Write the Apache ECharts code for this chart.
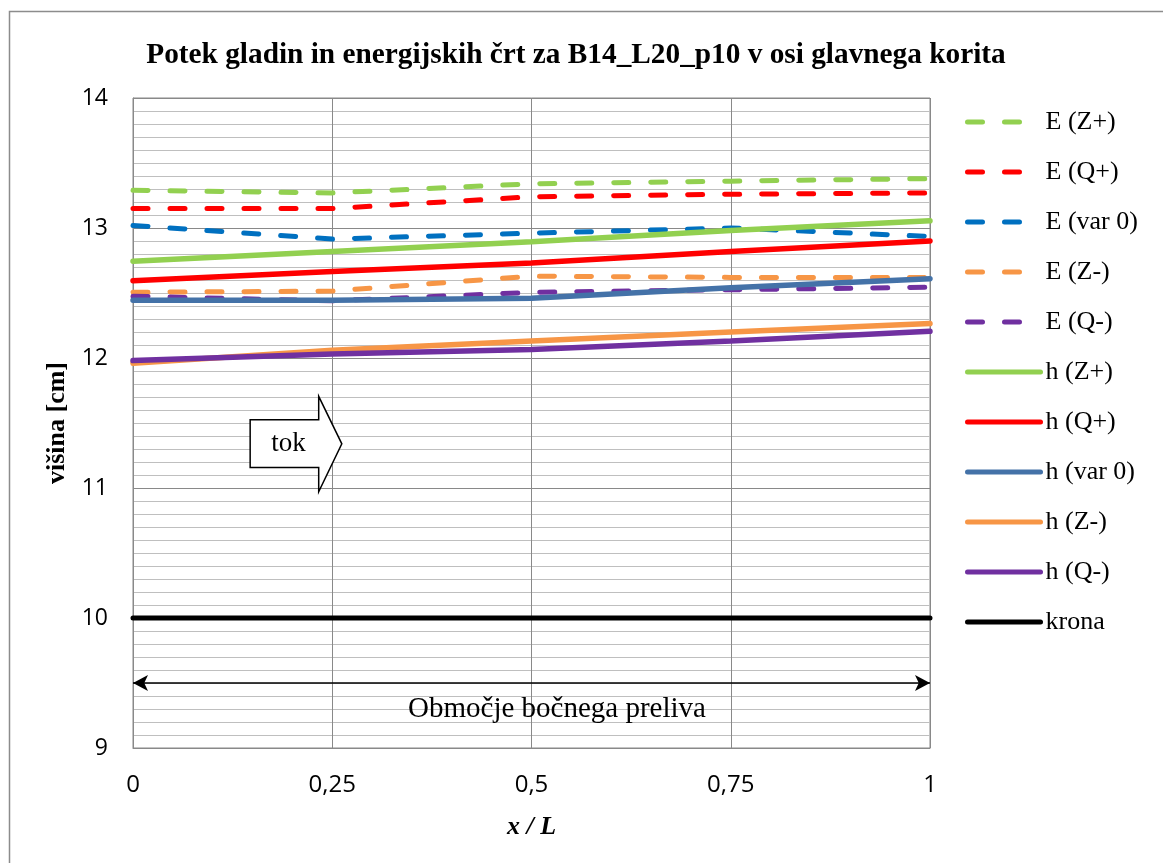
<!DOCTYPE html>
<html>
<head>
<meta charset="utf-8">
<script src="https://cdn.jsdelivr.net/npm/echarts@6/dist/echarts.min.js"></script>
<style>html,body{margin:0;padding:0;background:#fff}#c{width:1163px;height:863px}</style>
</head>
<body>
<div id="c"></div>
<script>
const xs = [0, 0.25, 0.5, 0.75, 1];
const xTickLabels = ['0', '0,25', '0,5', '0,75', '1'];
const E_Zp   = [13.29, 13.27, 13.34, 13.36, 13.38];
const E_Qp   = [13.15, 13.15, 13.24, 13.26, 13.27];
const E_var0 = [13.02, 12.915, 12.96, 13.00, 12.935];
const E_Zm   = [12.505, 12.515, 12.63, 12.62, 12.62];
const E_Qm   = [12.475, 12.44, 12.505, 12.525, 12.545];
const h_Zp   = [12.745, 12.82, 12.895, 12.98, 13.055];
const h_Qp   = [12.595, 12.665, 12.73, 12.82, 12.90];
const h_var0 = [12.445, 12.445, 12.46, 12.54, 12.61];
const h_Zm   = [11.96, 12.06, 12.13, 12.20, 12.265];
const h_Qm   = [11.98, 12.03, 12.065, 12.13, 12.205];
const krona  = [10, 10, 10, 10, 10];

const pairs = arr => xs.map((x, i) => [x, arr[i]]);
const SERIF = '"Liberation Serif", "Times New Roman", serif';
const SANS = '"Open Sans", "Liberation Sans", sans-serif';

function dashed(name, data, color) {
  return { name, type: 'line', data: pairs(data), symbol: 'none', smooth: false,
    lineStyle: { color, width: 5, type: [15, 22], cap: 'round' }, itemStyle: { color } };
}
function solid(name, data, color, w) {
  return { name, type: 'line', data: pairs(data), symbol: 'none', smooth: false,
    lineStyle: { color, width: w || 5.5, cap: 'round' }, itemStyle: { color } };
}

const chart = echarts.init(document.getElementById('c'), null, { renderer: 'canvas' });
const series = [
  dashed('E (Z+)', E_Zp, '#92D050'),
  dashed('E (Q+)', E_Qp, '#FF0000'),
  dashed('E (var 0)', E_var0, '#0070C0'),
  dashed('E (Z-)', E_Zm, '#F79646'),
  dashed('E (Q-)', E_Qm, '#7030A0'),
  solid('h (Z+)', h_Zp, '#92D050'),
  solid('h (Q+)', h_Qp, '#FF0000'),
  solid('h (var 0)', h_var0, '#4472A8'),
  solid('h (Z-)', h_Zm, '#F79646'),
  solid('h (Q-)', h_Qm, '#7030A0'),
  solid('krona', krona, '#000000', 5)
];
series[series.length - 1].markLine = {
  silent: true,
  symbol: ['arrow', 'arrow'],
  symbolSize: [12, 15],
  lineStyle: { color: '#000', width: 1.5, type: 'solid' },
  label: { show: false },
  data: [[{ coord: [0, 9.5] }, { coord: [1, 9.5] }]]
};

chart.setOption({
  animation: false,
  backgroundColor: '#fff',
  title: {
    text: 'Potek gladin in energijskih črt za B14_L20_p10 v osi glavnega korita',
    left: 571, top: 36, textAlign: 'center',
    textStyle: { fontFamily: SERIF, fontWeight: 'bold', fontSize: 29.3, color: '#000' }
  },
  legend: {
    orient: 'vertical', left: 965, top: 109, padding: 0, itemWidth: 73, itemHeight: 14, itemGap: 24,
    itemStyle: { color: 'rgba(0,0,0,0)', opacity: 0, borderWidth: 0 },
    lineStyle: { width: 5, cap: 'round' },
    textStyle: { fontFamily: SERIF, fontSize: 26, color: '#000' },
    data: series.map(s => s.name)
  },
  grid: { left: 133, right: 233, top: 98, bottom: 115, show: true, borderColor: '#898989', borderWidth: 1, containLabel: false },
  xAxis: {
    type: 'value', min: 0, max: 1, interval: 0.25,
    name: 'x / L', nameLocation: 'middle', nameGap: 66,
    nameTextStyle: { fontFamily: SERIF, fontWeight: 'bold', fontStyle: 'italic', fontSize: 26, color: '#000' },
    axisLine: { show: true, lineStyle: { color: '#898989' } },
    axisTick: { show: false },
    axisLabel: { margin: 25, fontFamily: SANS, fontSize: 24, color: '#000',
      formatter: v => { const i = xs.indexOf(v); return i >= 0 ? xTickLabels[i] : ''; } },
    splitLine: { show: true, lineStyle: { color: '#898989', width: 1 } }
  },
  yAxis: {
    type: 'value', min: 9, max: 14, interval: 1,
    name: 'višina [cm]', nameLocation: 'middle', nameGap: 63, nameRotate: 90,
    nameTextStyle: { fontFamily: SERIF, fontWeight: 'bold', fontSize: 26, color: '#000' },
    axisLine: { show: true, lineStyle: { color: '#898989' } },
    axisTick: { show: false },
    minorTick: { show: false, splitNumber: 10 },
    axisLabel: { margin: 25, fontFamily: SANS, fontSize: 23, color: '#000' },
    splitLine: { show: true, lineStyle: { color: '#898989', width: 1 } },
    minorSplitLine: { show: true, lineStyle: { color: '#BFBFBF', width: 1.2 } }
  },
  series
});

// annotations positioned in data coordinates
const tok = { x0: 0.147, x1: 0.233, x2: 0.262, yHT: 11.705, yBT: 11.525, yM: 11.34, yBB: 11.158, yHB: 10.971 };
const P = (x, y) => chart.convertToPixel({ gridIndex: 0 }, [x, y]);
const poly = [
  P(tok.x0, tok.yBT), P(tok.x1, tok.yBT), P(tok.x1, tok.yHT), P(tok.x2, tok.yM),
  P(tok.x1, tok.yHB), P(tok.x1, tok.yBB), P(tok.x0, tok.yBB)
];
const tc = P((tok.x0 + tok.x1) / 2 + 0.005, tok.yM);
const rc = P(0.532, 9.295);
chart.setOption({
  graphic: [
    { type: 'rect', shape: { x: 9.5, y: 11.5, width: 1300, height: 1000 }, style: { fill: 'none', stroke: '#8c8c8c', lineWidth: 1.5 }, z: 100, silent: true },
    { type: 'polygon', shape: { points: poly }, style: { fill: '#fff', stroke: '#000', lineWidth: 1.5 }, z: 100 },
    { type: 'text', x: tc[0], y: tc[1], style: { text: 'tok', font: '27px ' + SERIF, fill: '#000', align: 'center', verticalAlign: 'middle' }, z: 101 },
    { type: 'text', x: rc[0], y: rc[1], style: { text: 'Območje bočnega preliva', font: '29px ' + SERIF, fill: '#000', align: 'center', verticalAlign: 'middle' }, z: 101 }
  ]
});
</script>
</body>
</html>
